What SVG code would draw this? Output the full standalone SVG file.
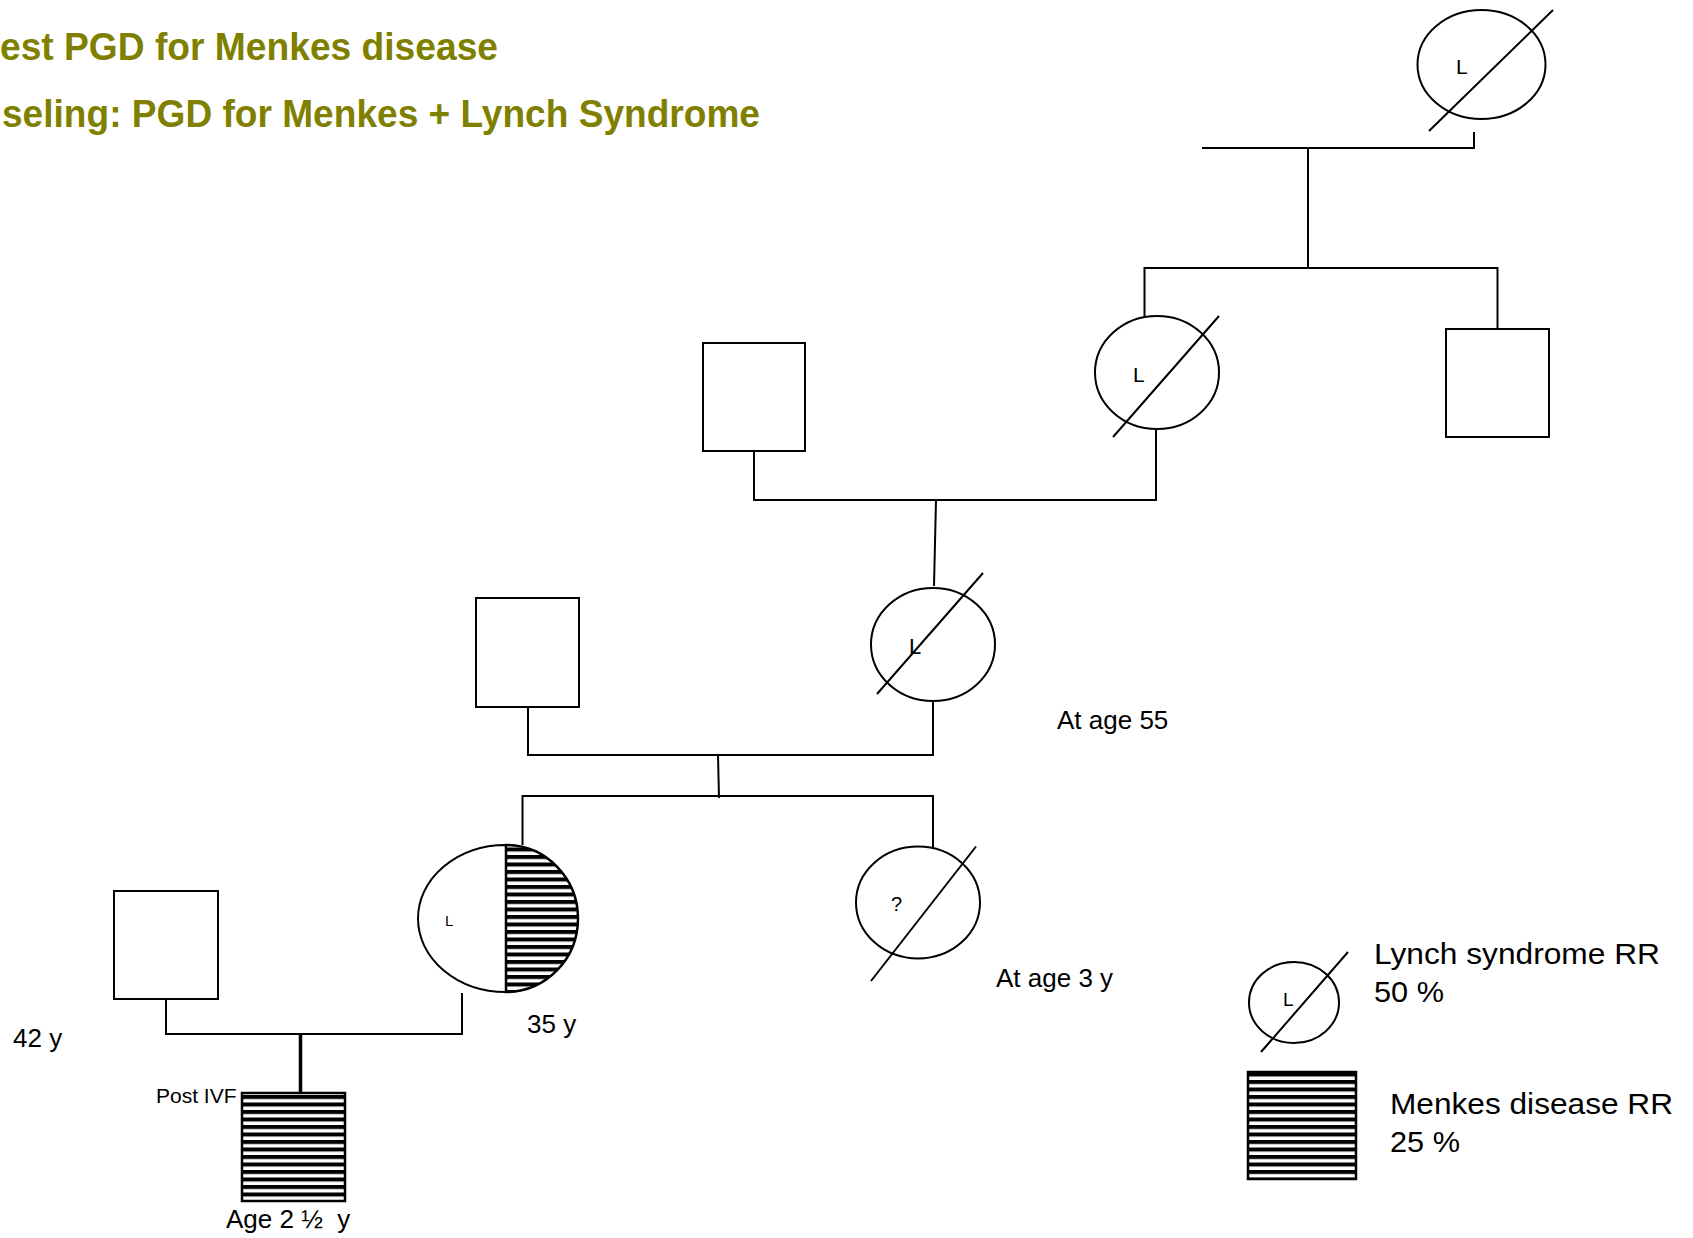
<svg xmlns="http://www.w3.org/2000/svg" width="1693" height="1238" viewBox="0 0 1693 1238">
<defs>
<pattern id="hatch" patternUnits="userSpaceOnUse" width="20" height="7.5">
<rect x="0" y="0" width="20" height="7.5" fill="#ffffff"/>
<rect x="0" y="0" width="20" height="4" fill="#000000"/>
</pattern>
</defs>
<style>
.s{fill:#ffffff;stroke:#000000;stroke-width:2}
.h{fill:url(#hatch);stroke:#000000;stroke-width:2.5}
.ln{fill:none;stroke:#000000;stroke-width:2}
.t{font-family:"Liberation Sans",Arial,sans-serif;fill:#000000}
.title{font-family:"Liberation Sans",Arial,sans-serif;font-weight:bold;font-size:38px;fill:#808000}
</style>
<rect width="1693" height="1238" fill="#ffffff"/>

<text class="title" x="0" y="60" textLength="498" lengthAdjust="spacingAndGlyphs">est PGD for Menkes disease</text>
<text class="title" x="2" y="127" textLength="758" lengthAdjust="spacingAndGlyphs">seling: PGD for Menkes + Lynch Syndrome</text>

<g id="connectors">
<path class="ln" d="M1202,148 H1474 V132"/>
<path class="ln" d="M1308,148 V268"/>
<path class="ln" d="M1144.5,316 V268 H1497.5 V329"/>
<path class="ln" d="M754,451 V500 H1156 V429"/>
<path class="ln" d="M936,500 L934,586"/>
<path class="ln" d="M528,707 V755 H933 V701"/>
<path class="ln" d="M718,755 L719,798"/>
<path class="ln" d="M522.5,845 V796 H933 V848"/>
<path class="ln" d="M166,999 V1034 H462 V993"/>
<path fill="none" stroke="#000000" stroke-width="3.5" d="M300.5,1034 V1093"/>
</g>

<g id="gm-top">
<ellipse class="s" cx="1481.5" cy="64.5" rx="64" ry="54.5"/>
<line class="ln" x1="1429" y1="131" x2="1553" y2="10"/>
<text class="t" x="1456" y="74" font-size="21">L</text>
</g>

<g id="grandmother">
<ellipse class="s" cx="1157" cy="372.5" rx="62" ry="56.5"/>
<line class="ln" x1="1113" y1="437" x2="1219" y2="316"/>
<text class="t" x="1133" y="382" font-size="21">L</text>
</g>

<g id="uncle">
<rect class="s" x="1446" y="329" width="103" height="108"/>
</g>

<g id="grandfather">
<rect class="s" x="703" y="343" width="102" height="108"/>
</g>

<g id="mother">
<ellipse class="s" cx="933" cy="644.5" rx="62" ry="56.5"/>
<line class="ln" x1="877" y1="694" x2="983" y2="573"/>
<text class="t" x="909" y="654" font-size="22">L</text>
<text class="t" x="1057" y="729" font-size="26">At age 55</text>
</g>

<g id="father">
<rect class="s" x="476" y="598" width="103" height="109"/>
</g>

<g id="proband">
<path class="s" d="M506,845 A88,73.5 0 0 0 506,992 Z"/>
<path class="h" d="M506,845 A72,73.5 0 0 1 506,992 Z"/>
<text class="t" x="445" y="926" font-size="15">L</text>
<text class="t" x="527" y="1033" font-size="26">35 y</text>
</g>

<g id="sister">
<ellipse class="s" cx="918" cy="902.5" rx="62" ry="56"/>
<line class="ln" x1="871" y1="981" x2="976" y2="846.5"/>
<text class="t" x="891" y="911" font-size="20">?</text>
<text class="t" x="996" y="987" font-size="26">At age 3 y</text>
</g>

<g id="husband">
<rect class="s" x="114" y="891" width="104" height="108"/>
<text class="t" x="13" y="1047" font-size="26">42 y</text>
</g>

<g id="child">
<rect class="h" x="242" y="1093" width="103" height="108"/>
<text class="t" x="156" y="1103" font-size="21">Post IVF</text>
<text class="t" x="226" y="1228" font-size="26">Age 2 ½&#160; y</text>
</g>

<g id="legend-lynch">
<ellipse class="s" cx="1294" cy="1002.5" rx="45" ry="40.5"/>
<line class="ln" x1="1261" y1="1052" x2="1348" y2="952"/>
<text class="t" x="1283" y="1006" font-size="19">L</text>
<text class="t" x="1374" y="964" font-size="30" textLength="286" lengthAdjust="spacingAndGlyphs">Lynch syndrome RR</text>
<text class="t" x="1374" y="1002" font-size="30" textLength="70" lengthAdjust="spacingAndGlyphs">50 %</text>
</g>

<g id="legend-menkes">
<rect class="h" x="1248" y="1072" width="108" height="107"/>
<text class="t" x="1390" y="1114" font-size="30" textLength="283" lengthAdjust="spacingAndGlyphs">Menkes disease RR</text>
<text class="t" x="1390" y="1152" font-size="30" textLength="70" lengthAdjust="spacingAndGlyphs">25 %</text>
</g>
</svg>
